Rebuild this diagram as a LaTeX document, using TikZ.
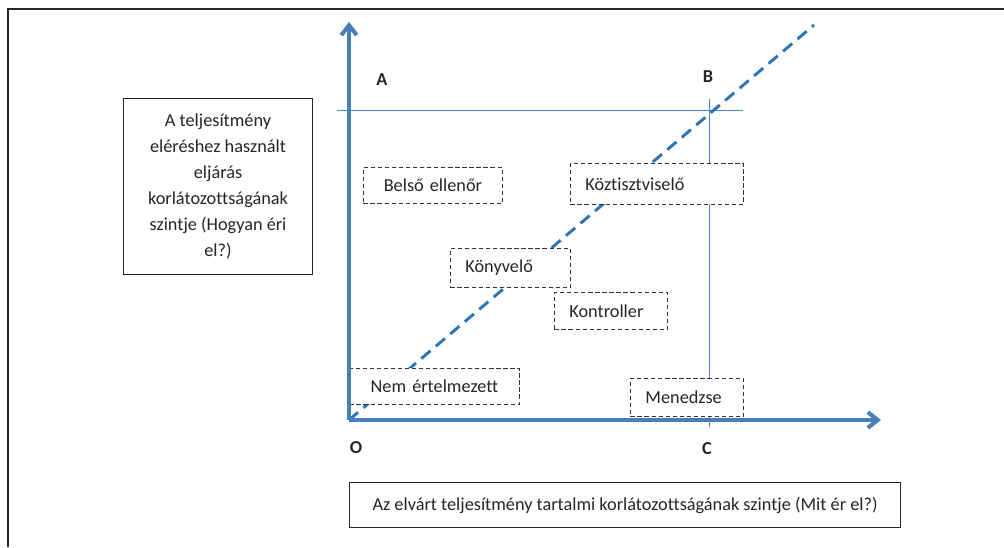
\documentclass[tikz,border=0pt]{standalone}
\usepackage{fontspec}
\setmainfont{Carlito}[Ligatures=NoCommon]
\usetikzlibrary{arrows.meta,positioning}
\definecolor{axisblue}{RGB}{74,126,187}
\definecolor{lineblue}{RGB}{46,117,182}
\definecolor{gridblue}{RGB}{70,135,210}

\begin{document}
\begin{tikzpicture}[x=0.025cm, y=-0.025cm,
  axisline/.style = {draw=axisblue, line width=2.9pt,
                     -{Straight Barb[length=7pt,width=11pt]}},
  trend/.style    = {draw=lineblue, line width=2.1pt, dash pattern=on 8.5pt off 5pt},
  guide/.style    = {draw=gridblue, line width=0.4pt},
  job/.style      = {draw=black!80, line width=0.6pt, dash pattern=on 3pt off 2pt,
                     fill=white, text=black!85, anchor=north west, align=left,
                     inner xsep=0.375cm, inner ysep=0pt,
                     font=\fontsize{13}{15}\selectfont},
  sidebox/.style  = {draw=black!85, line width=0.7pt, fill=white, text=black!85,
                     anchor=north west, align=center,
                     font=\fontsize{13}{18.5}\selectfont},
  letter/.style   = {text=black!85, font=\bfseries\fontsize{13}{15}\selectfont}
]
\useasboundingbox (0,0) rectangle (1004,547);
\draw[line width=1.5pt, black!85] (8,547) -- (8,9) -- (1004,9);
%
\coordinate (O) at (349,420);
\coordinate (ytop) at (349,22);
\coordinate (xend) at (881,420);
\coordinate (dtop) at (814,25);
\coordinate (hl) at (337,110);
\coordinate (hr) at (743,110);
\coordinate (vt) at (709,99);
\coordinate (vb) at (709,427);
\draw[guide] (hl) -- (hr);
\draw[guide] (vt) -- (vb);
\draw[trend] (O) -- (dtop);
%
\node[job, align=center, text width=2.725cm, minimum height=0.9cm]   (belso) at (363,167) {Belső ellenőr};
\node[job, text width=3.575cm, minimum height=1.025cm] (kozt)  at (570,163) {Köztisztviselő};
\node[job, text width=2.25cm,  minimum height=0.975cm] (konyv) at (450,248) {Könyvelő};
\node[job, text width=2.075cm, minimum height=0.925cm] (kontr) at (554,292) {Kontroller};
\node[job, align=center, text width=3.5cm, minimum height=0.9cm]     (nem)   at (349,368) {Nem értelmezett};
\node[job, text width=2.075cm, minimum height=0.95cm]  (men)   at (630,378) {Menedzse};
%
\draw[axisline] (O) -- (ytop);
\draw[axisline] (O) -- (xend);
%
\node[letter] (A) at (382,80) {A};
\node[letter] (B) at (708,77) {B};
\node[letter] (Olab) at (356,448) {O};
\node[letter] (C) at (707,449) {C};
%
\node[sidebox, minimum width=4.725cm, minimum height=4.4cm] (yname) at (123,98)
  {A teljesítmény\\ eléréshez használt\\ eljárás\\ korlátozottságának\\ szintje (Hogyan éri\\ el?)};
\node[sidebox, minimum width=13.775cm, minimum height=1.125cm] (xname) at (349,482)
  {Az elvárt teljesítmény tartalmi korlátozottságának szintje (Mit ér el?)};
\end{tikzpicture}
\end{document}
